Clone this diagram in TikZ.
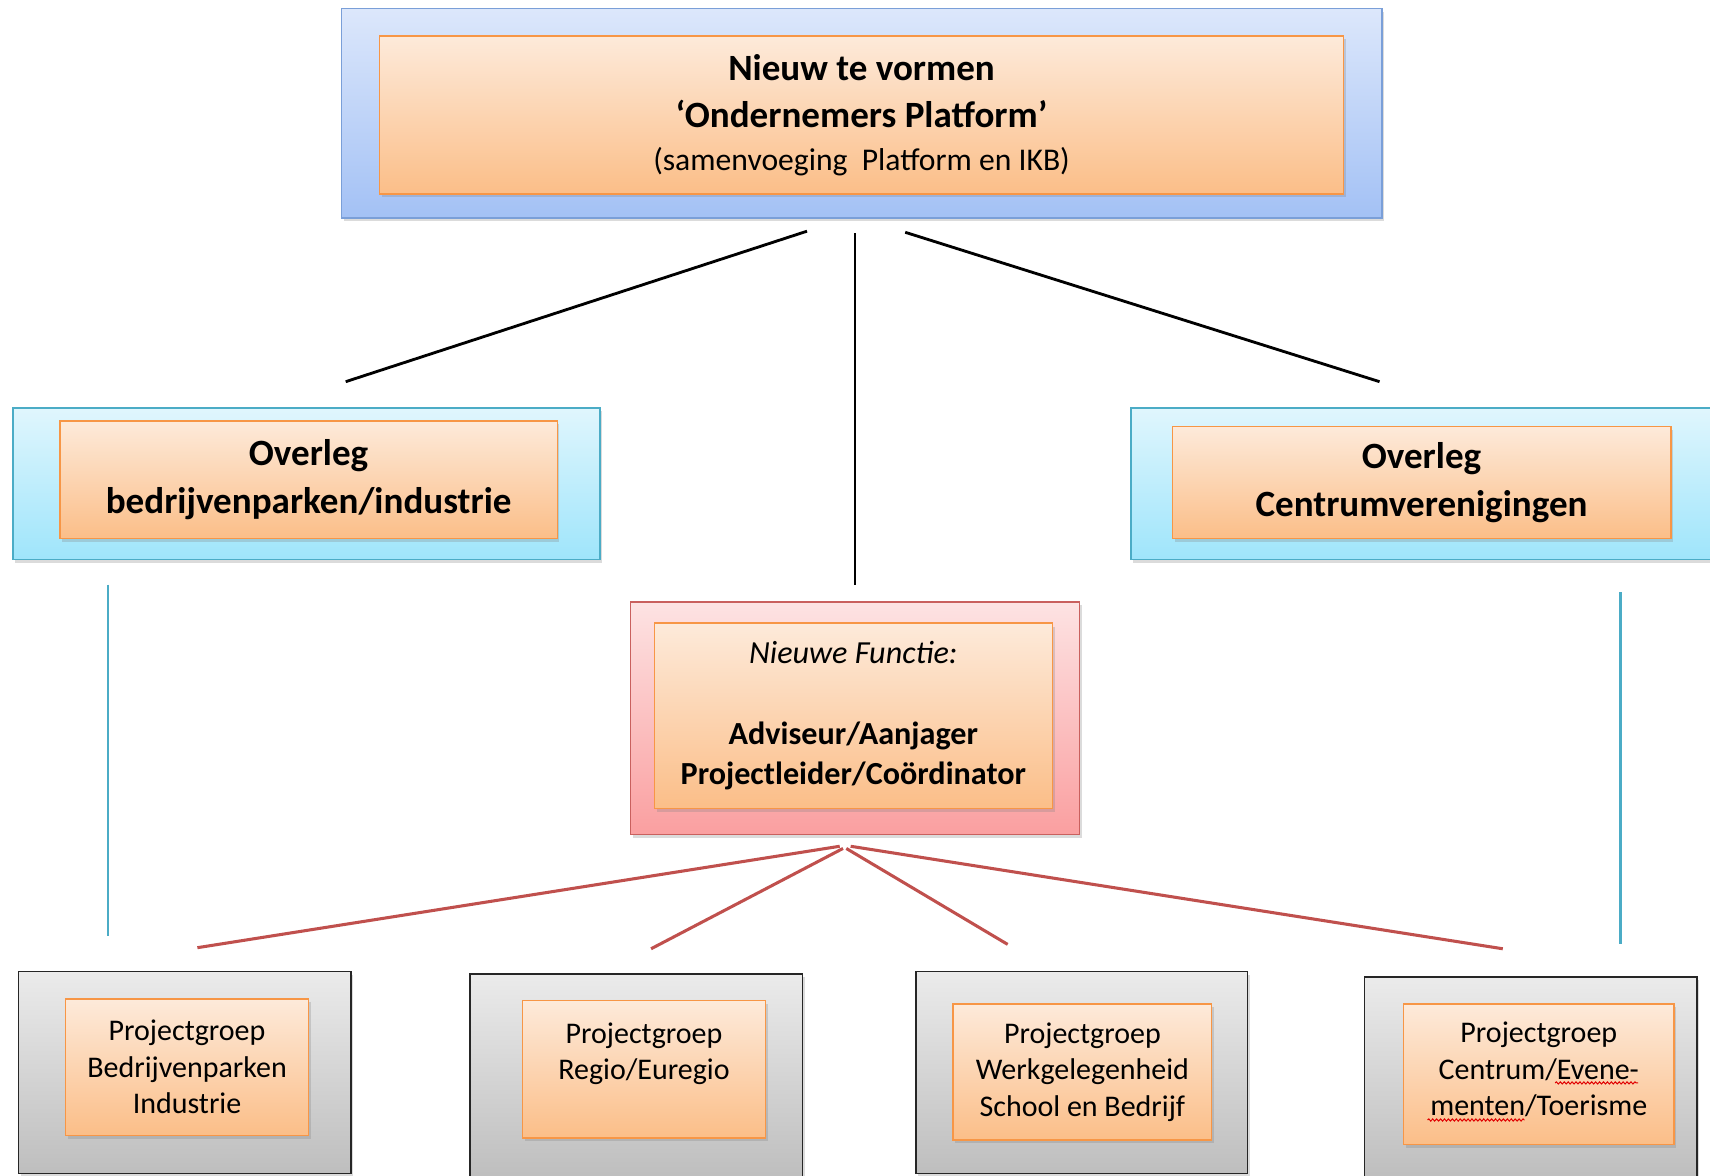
\documentclass[tikz,border=0pt]{standalone}
\usepackage{fontspec}
\setmainfont{Carlito}
\usetikzlibrary{shadows,decorations.pathmorphing}
\definecolor{blueTop}{HTML}{DCE7FB}
\definecolor{blueBot}{HTML}{A3C1F5}
\definecolor{blueLine}{HTML}{7A9FD8}
\definecolor{orTop}{HTML}{FDEADA}
\definecolor{orBot}{HTML}{FBBE88}
\definecolor{orLine}{HTML}{F79646}
\definecolor{cyTop}{HTML}{E0F6FD}
\definecolor{cyBot}{HTML}{9FE5FB}
\definecolor{cyLine}{HTML}{4BACC6}
\definecolor{pkTop}{HTML}{FDE3E3}
\definecolor{pkBot}{HTML}{FA9FA0}
\definecolor{pkLine}{HTML}{C9605E}
\definecolor{gyTop}{HTML}{EBEBEB}
\definecolor{gyBot}{HTML}{BEBEBE}
\definecolor{gyLine}{HTML}{262626}
\definecolor{redLine}{HTML}{C0504D}
\definecolor{spellRed}{HTML}{E00000}
\tikzset{
  boxbase/.style={rectangle, inner sep=0pt, line width=1.4pt,
    drop shadow={shadow xshift=2pt, shadow yshift=-3pt, opacity=0.28}},
  outerblue/.style={boxbase, draw=blueLine, top color=blueTop, bottom color=blueBot},
  outercyan/.style={boxbase, draw=cyLine, top color=cyTop, bottom color=cyBot},
  outerpink/.style={boxbase, draw=pkLine, top color=pkTop, bottom color=pkBot},
  outergray/.style={boxbase, draw=gyLine, top color=gyTop, bottom color=gyBot},
  innerbox/.style={boxbase, draw=orLine, top color=orTop, bottom color=orBot, align=center, text=black},
  headfont/.style={font=\fontsize{34}{44}\selectfont\bfseries},
  smallfont/.style={font=\fontsize{27.5}{33.5}\selectfont},
  blackline/.style={draw=black, line width=2.6pt},
  redconn/.style={draw=redLine, line width=2.8pt},
  blueconn/.style={draw=cyLine, line width=2.6pt},
  spellwavy/.style={draw=spellRed, line width=0.9pt, decorate,
    decoration={snake, amplitude=1pt, segment length=3.6pt}}
}
\begin{document}
\begin{tikzpicture}[x=1pt,y=1pt]
\useasboundingbox (0,0) rectangle (1568,1078);
\fill[white] (0,0) rectangle (1568,1078);

% top
\node[outerblue, minimum width=954pt, minimum height=192pt] (topO) at (790,974) {};
\node[innerbox, minimum width=884pt, minimum height=145pt, font=\fontsize{34}{43}\selectfont\bfseries] (topI) at (790,972.5)
  {Nieuw te vormen\\‘Ondernemers Platform’\\[-4pt]{\fontsize{29}{36}\selectfont\mdseries (samenvoeging\ \ Platform en IKB)}};

% middle left
\node[outercyan, minimum width=538pt, minimum height=139pt] (leftO) at (281,634.5) {};
\node[innerbox, headfont, minimum width=456pt, minimum height=108pt] (leftI) at (283,638)
  {Overleg\\bedrijvenparken/industrie};

% middle right
\node[outercyan, minimum width=543pt, minimum height=139pt] (rightO) at (1308.5,634.5) {};
\node[innerbox, headfont, minimum width=457pt, minimum height=103pt] (rightI) at (1303.5,635.5)
  {Overleg\\Centrumverenigingen};

% center pink
\node[outerpink, minimum width=412pt, minimum height=213pt] (pinkO) at (784,419.5) {};
\node[innerbox, minimum width=365pt, minimum height=170pt, font=\fontsize{29.5}{37}\selectfont] (pinkI) at (782.5,421.5)
  {\textit{Nieuwe Functie:}\\\mbox{}\\\textbf{Adviseur/Aanjager}\\\textbf{Projectleider/Coördinator}};

% bottom boxes
\node[outergray, minimum width=305pt, minimum height=185pt] (b1O) at (169.5,94.5) {};
\node[innerbox, smallfont, minimum width=223pt, minimum height=125pt] (b1I) at (171.5,99.5)
  {Projectgroep\\Bedrijvenparken\\Industrie};

\node[outergray, minimum width=305pt, minimum height=187pt] (b2O) at (583.5,91.5) {};
\node[innerbox, smallfont, minimum width=223pt, minimum height=126pt] (b2I) at (590.5,97.5)
  {Projectgroep\\Regio/Euregio\\\mbox{}};

\node[outergray, minimum width=304pt, minimum height=185pt] (b3O) at (992,94.5) {};
\node[innerbox, smallfont, minimum width=237pt, minimum height=125pt] (b3I) at (992.5,95)
  {Projectgroep\\Werkgelegenheid\\School en Bedrijf};

\node[outergray, minimum width=305pt, minimum height=184pt] (b4O) at (1403.5,90) {};
\node[innerbox, smallfont, minimum width=248pt, minimum height=129pt] (b4I) at (1411,93)
  {\raisebox{2pt}[\height][\depth]{\begin{tabular}{@{}c@{}}Projectgroep\\Centrum/Evene-\\menten/Toerisme\end{tabular}}};

% spell-check underlines
\coordinate (w1a) at (1426,85); \coordinate (w1b) at (1502,85);
\coordinate (w2a) at (1309,51); \coordinate (w2b) at (1398,51);
\draw[spellwavy] (w1a) -- (w1b);
\draw[spellwavy] (w2a) -- (w2b);

% connector end points
\coordinate (tA) at (740,866); \coordinate (lA) at (317,728);
\coordinate (tB) at (784,864); \coordinate (cB) at (784,542);
\coordinate (tC) at (830,865); \coordinate (rC) at (1265,728);
\coordinate (lb1) at (99,542); \coordinate (lb2) at (99,220);
\coordinate (rb1) at (1486,535); \coordinate (rb2) at (1486,212);
\coordinate (p1) at (770,302); \coordinate (q1) at (181,209);
\coordinate (p2) at (773,300); \coordinate (q2) at (597,208);
\coordinate (p3) at (776,300); \coordinate (q3) at (924,212);
\coordinate (p4) at (780,302); \coordinate (q4) at (1378,208);

\draw[blackline] (tA) -- (lA);
\draw[blackline] (tB) -- (cB);
\draw[blackline] (tC) -- (rC);
\draw[blueconn] (lb1) -- (lb2);
\draw[blueconn] (rb1) -- (rb2);
\draw[redconn] (p1) -- (q1);
\draw[redconn] (p2) -- (q2);
\draw[redconn] (p3) -- (q3);
\draw[redconn] (p4) -- (q4);
\end{tikzpicture}
\end{document}
